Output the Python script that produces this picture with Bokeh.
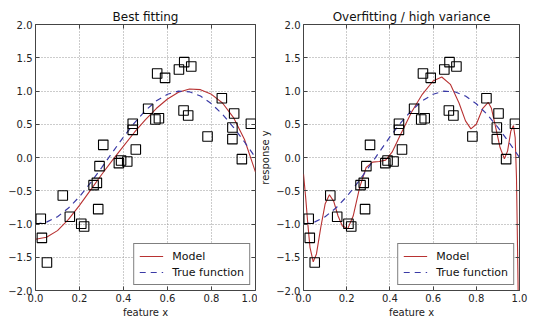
from bokeh.plotting import figure
from bokeh.layouts import row
from bokeh.models import Range1d, LinearAxis, FixedTicker, Legend, LegendItem
from bokeh.embed import file_html
from bokeh.resources import INLINE

# noisy samples (same in both panels)
sample_x = [0.024, 0.029, 0.052, 0.124, 0.156, 0.208, 0.221, 0.264, 0.279, 0.285,
            0.291, 0.308, 0.379, 0.389, 0.417, 0.442, 0.442, 0.456, 0.512, 0.545,
            0.553, 0.561, 0.589, 0.652, 0.673, 0.676, 0.694, 0.708, 0.782, 0.847,
            0.895, 0.895, 0.903, 0.938, 0.979]
sample_y = [-0.922, -1.208, -1.579, -0.571, -0.892, -0.997, -1.038, -0.416, -0.381, -0.777,
            -0.13, 0.19, -0.085, -0.045, -0.06, 0.507, 0.416, 0.12, 0.732, 0.571,
            1.263, 0.591, 1.198, 1.323, 0.707, 1.434, 0.632, 1.368, 0.316, 0.892,
            0.451, 0.276, 0.662, -0.025, 0.507]

# true function and best-fit model, read at steps of 0.05
curve_x = [0.0, 0.05, 0.10, 0.15, 0.20, 0.25, 0.30, 0.35, 0.40, 0.45, 0.50,
           0.55, 0.60, 0.65, 0.70, 0.75, 0.80, 0.85, 0.90, 0.95, 1.0]
true_y = [-1.0, -0.972, -0.891, -0.760, -0.588, -0.383, -0.156, 0.078, 0.309, 0.522, 0.707,
          0.853, 0.951, 0.997, 0.988, 0.924, 0.809, 0.649, 0.454, 0.233, 0.0]
best_y = [-1.23, -1.20, -1.10, -0.93, -0.72, -0.49, -0.26, -0.04, 0.17, 0.38, 0.57,
          0.74, 0.88, 0.98, 1.03, 1.02, 0.95, 0.82, 0.60, 0.27, -0.22]

# overfitted model
over_x = [0.0, 0.010, 0.020, 0.030, 0.045, 0.060, 0.080, 0.100, 0.120, 0.140, 0.160,
          0.180, 0.205, 0.230, 0.260, 0.290, 0.320, 0.350, 0.380, 0.410, 0.450,
          0.500, 0.550, 0.600, 0.640, 0.680, 0.720, 0.750, 0.775, 0.800, 0.830,
          0.855, 0.870, 0.890, 0.910, 0.930, 0.945, 0.960, 0.972, 0.980, 0.986,
          0.992, 1.0]
over_y = [-0.25, -0.60, -1.00, -1.35, -1.57, -1.45, -1.05, -0.70, -0.56, -0.66, -0.88,
          -1.03, -1.07, -0.88, -0.45, -0.15, -0.07, -0.06, -0.04, 0.08, 0.35,
          0.68, 0.95, 1.15, 1.21, 1.10, 0.82, 0.55, 0.43, 0.50, 0.74,
          0.83, 0.74, 0.45, 0.15, -0.02, 0.10, 0.40, 0.48, 0.30, -0.30,
          -1.60, -3.50]

x_ticks = [0.0, 0.2, 0.4, 0.6, 0.8, 1.0]
y_ticks = [-2.0, -1.5, -1.0, -0.5, 0.0, 0.5, 1.0, 1.5, 2.0]
x_tick_labels = ["0.0", "0.2", "0.4", "0.6", "0.8", "1.0"]
y_tick_labels = ["\u22122.0", "\u22121.5", "\u22121.0", "\u22120.5", "0.0", "0.5", "1.0", "1.5", "2.0"]

FONT = "DejaVu Sans"
RED = "#b83232"
BLUE = "#3a3aa6"
FRAME = "#444444"


def make_fig(title, mx, my, width, mbl, mbr, ylabel=None):
    p = figure(width=width, height=326, output_backend="svg", toolbar_location=None,
               x_range=Range1d(0, 1), y_range=Range1d(-2, 2),
               min_border_left=mbl, min_border_right=mbr,
               min_border_top=24, min_border_bottom=36)
    p.title.text = title
    p.title.align = "center"
    p.title.text_font = FONT
    p.title.text_font_size = "12px"
    p.title.text_font_style = "normal"
    p.title.text_color = "#111111"
    p.title.standoff = 2
    p.outline_line_color = FRAME
    p.outline_line_width = 1
    p.outline_line_alpha = 1

    for ax in (p.xaxis[0], p.yaxis[0]):
        ax.axis_line_color = None
        ax.major_tick_in = 4
        ax.major_tick_out = 0
        ax.minor_tick_line_color = None
        ax.major_tick_line_color = FRAME
        ax.major_label_text_font = FONT
        ax.major_label_text_font_size = "10px"
        ax.major_label_text_color = "#222222"
        ax.axis_label_text_font = FONT
        ax.axis_label_text_font_size = "10px"
        ax.axis_label_text_font_style = "normal"
        ax.axis_label_text_color = "#222222"
        ax.major_label_standoff = 3
        ax.axis_label_standoff = 2
    p.xaxis[0].ticker = FixedTicker(ticks=x_ticks)
    p.yaxis[0].ticker = FixedTicker(ticks=y_ticks)
    p.xaxis[0].major_label_overrides = dict(zip(x_ticks, x_tick_labels))
    p.yaxis[0].major_label_overrides = dict(zip(y_ticks, y_tick_labels))
    p.xaxis[0].axis_label = "feature x"
    if ylabel:
        p.yaxis[0].axis_label = ylabel

    # ticks on the top and right sides (no labels)
    for side, tk in (("right", y_ticks), ("above", x_ticks)):
        a = LinearAxis(ticker=FixedTicker(ticks=tk))
        a.axis_line_color = None
        a.major_tick_in = 4
        a.major_tick_out = 0
        a.minor_tick_line_color = None
        a.major_tick_line_color = FRAME
        a.major_label_overrides = {t: "" for t in tk}
        a.major_label_standoff = 0
        p.add_layout(a, side)

    p.xgrid.ticker = FixedTicker(ticks=x_ticks)
    p.ygrid.ticker = FixedTicker(ticks=y_ticks)
    for g in (p.xgrid[0], p.ygrid[0]):
        g.grid_line_color = "#999999"
        g.grid_line_dash = "1 2"
        g.grid_line_width = 1

    r_model = p.line(mx, my, line_color=RED, line_width=1.1)
    r_true = p.line(curve_x, true_y, line_color=BLUE, line_width=1.2, line_dash="6 5")
    p.scatter(sample_x, sample_y, marker="square", size=9.5, fill_color=None,
              line_color="#000000", line_width=1.1)

    leg = Legend(items=[LegendItem(label="Model", renderers=[r_model]),
                        LegendItem(label="True function", renderers=[r_true])],
                 location="bottom_right")
    leg.margin = 5
    leg.padding = 5
    leg.spacing = 2
    leg.glyph_width = 24
    leg.glyph_height = 14
    leg.label_height = 14
    leg.label_standoff = 9
    leg.label_text_font = FONT
    leg.label_text_font_size = "11px"
    leg.label_text_color = "#111111"
    leg.border_line_color = "#000000"
    leg.border_line_width = 1
    leg.background_fill_alpha = 1
    p.add_layout(leg)
    return p


p1 = make_fig("Best fitting", curve_x, best_y, 257, 35, 2)
p2 = make_fig("Overfitting / high variance", over_x, over_y, 278, 42, 16, "response y")

layout = row(p1, p2)
open("out.html", "w").write(file_html(layout, INLINE))
